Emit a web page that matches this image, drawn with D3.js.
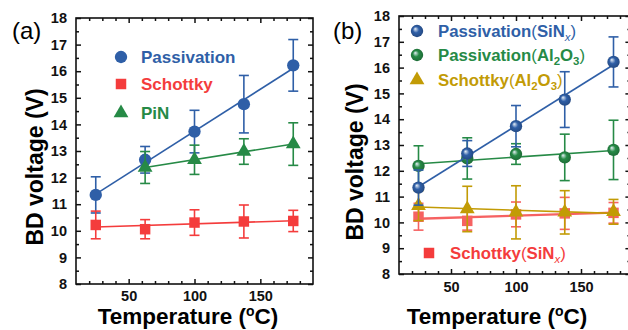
<!DOCTYPE html>
<html>
<head>
<meta charset="utf-8">
<script src="https://cdn.jsdelivr.net/npm/d3@7"></script>
<style>
  body { margin: 0; background: #fff; }
  svg { display: block; font-family: "Liberation Sans", Arial, sans-serif; }
  .tick text { font-size: 14.5px; font-weight: bold; fill: #111; }
  .tick line { stroke: #111; stroke-width: 1.5; }
</style>
</head>
<body>
<script>
// temperatures (°C)
const temps = [25, 62.5, 100, 137.5, 175];
const pinTemps = [62.5, 100, 137.5, 175];

// panel (a) + (b): SiNx samples
const passSiN = [11.35, 12.67, 13.73, 14.76, 16.22];
const passSiNErr = [0.68, 0.5, 0.8, 1.08, 0.97];
const schSiN = [10.22, 10.06, 10.31, 10.35, 10.37];
const schSiNErr = [0.52, 0.36, 0.48, 0.62, 0.4];
// panel (a): PiN
const pin = [12.38, 12.67, 12.98, 13.26];
const pinErr = [0.6, 0.55, 0.48, 0.8];
// panel (b): Al2O3 samples
const passAl = [12.19, 12.48, 12.65, 12.52, 12.81];
const passAlErr = [0.78, 0.8, 0.4, 0.9, 1.15];
const schAl = [10.65, 10.52, 10.39, 10.39, 10.41];
const schAlErr = [0.58, 0.88, 1.03, 0.84, 0.48];

const xMajor = [50, 100, 150];
const xMinor = d3.range(20, 190, 10).filter(v => v % 50 !== 0);
const yMajor = d3.range(8, 19, 1);
const yMinor = d3.range(8.5, 18, 1);

const BLUE = "#2f5fa7", RED = "#f43c3c", GREEN = "#268a46", GOLD = "#c29b05";

const width = 628, height = 330;
const svg = d3.select("body").append("svg")
  .attr("width", width).attr("height", height);

const defs = svg.append("defs");
function sphere(id, col) {
  const g = defs.append("radialGradient").attr("id", id)
    .attr("cx", "50%").attr("cy", "50%").attr("r", "55%")
    .attr("fx", "35%").attr("fy", "32%");
  g.append("stop").attr("offset", "0%").attr("stop-color", "#e8f0f8");
  g.append("stop").attr("offset", "45%").attr("stop-color", col);
  g.append("stop").attr("offset", "100%").attr("stop-color", d3.color(col).darker(0.8));
}
sphere("gBlue", BLUE);
sphere("gGreen", GREEN);

function linfit(xs, ys) {
  const mx = d3.mean(xs), my = d3.mean(ys);
  const b = d3.sum(xs, (x, i) => (x - mx) * (ys[i] - my)) / d3.sum(xs, x => (x - mx) ** 2);
  return x => my + b * (x - mx);
}

function panel(cfg) {
  const x = d3.scaleLinear().domain(cfg.xDomain).range(cfg.xRange);
  const y = d3.scaleLinear().domain([8, 18]).range(cfg.yRange);
  const g = svg.append("g");
  const [x0, x1] = cfg.xRange, [y1, y0] = cfg.yRange;

  // minor ticks
  const mk = (axis, tr) => {
    const a = g.append("g").attr("transform", tr).call(axis);
    a.select(".domain").remove();
    return a;
  };
  mk(d3.axisBottom(x).tickValues(xMinor).tickSize(-3).tickFormat(""), `translate(0,${y1})`);
  mk(d3.axisTop(x).tickValues(xMinor).tickSize(-3).tickFormat(""), `translate(0,${y0})`);
  mk(d3.axisLeft(y).tickValues(yMinor).tickSize(-3).tickFormat(""), `translate(${x0},0)`);
  mk(d3.axisRight(y).tickValues(yMinor).tickSize(-3).tickFormat(""), `translate(${x1},0)`);
  // major ticks
  mk(d3.axisBottom(x).tickValues(xMajor).tickSize(-5).tickPadding(cfg.xPad), `translate(0,${y1})`);
  mk(d3.axisTop(x).tickValues(xMajor).tickSize(-5).tickFormat(""), `translate(0,${y0})`);
  mk(d3.axisLeft(y).tickValues(yMajor).tickSize(-5).tickPadding(9).tickFormat(d3.format("d")), `translate(${x0},0)`);
  mk(d3.axisRight(y).tickValues(yMajor).tickSize(-5).tickFormat(""), `translate(${x1},0)`);

  g.append("rect").attr("x", x0).attr("y", y0)
    .attr("width", x1 - x0).attr("height", y1 - y0)
    .attr("fill", "none").attr("stroke", "#111").attr("stroke-width", 1.6);

  // titles
  const xt = g.append("text").attr("x", cfg.xTitle[0]).attr("y", cfg.xTitle[1])
    .attr("text-anchor", "middle").style("font-size", "22.5px").style("font-weight", "bold");
  xt.append("tspan").text("Temperature (");
  xt.append("tspan").attr("dy", -8).style("font-size", "14px").text("o");
  xt.append("tspan").attr("dy", 8).text("C)");

  g.append("text")
    .attr("transform", `translate(${cfg.yTitle[0]},${cfg.yTitle[1]}) rotate(-90)`)
    .attr("text-anchor", "middle").style("font-size", "23px").style("font-weight", "bold")
    .text("BD voltage (V)");

  g.append("text").attr("x", cfg.label[0]).attr("y", cfg.label[1])
    .style("font-size", "24px").text(cfg.labelText);

  return { g, x, y };
}

function series(p, xs, ys, errs, col, marker, opts = {}) {
  const { g, x, y } = p;
  const s = g.append("g").attr("opacity", opts.opacity || 1);
  const f = linfit(xs, ys);
  s.append("line")
    .attr("x1", x(xs[0])).attr("y1", y(f(xs[0])))
    .attr("x2", x(xs[xs.length - 1])).attr("y2", y(f(xs[xs.length - 1])))
    .attr("stroke", col).attr("stroke-width", opts.lw || 1.6);
  const pts = xs.map((t, i) => ({ t, v: ys[i], e: errs[i] }));
  const eb = s.selectAll(".eb").data(pts).enter().append("g")
    .attr("stroke", col).attr("stroke-width", 1.6);
  eb.append("line").attr("x1", d => x(d.t)).attr("x2", d => x(d.t))
    .attr("y1", d => y(d.v - d.e)).attr("y2", d => y(d.v + d.e));
  eb.append("line").attr("x1", d => x(d.t) - 5).attr("x2", d => x(d.t) + 5)
    .attr("y1", d => y(d.v + d.e)).attr("y2", d => y(d.v + d.e));
  eb.append("line").attr("x1", d => x(d.t) - 5).attr("x2", d => x(d.t) + 5)
    .attr("y1", d => y(d.v - d.e)).attr("y2", d => y(d.v - d.e));
  s.selectAll(".mk").data(pts).enter().append("path")
    .attr("transform", d => `translate(${x(d.t)},${y(d.v)})`)
    .attr("d", markerPath(marker))
    .attr("fill", opts.fill || col);
}

function markerPath(m) {
  if (m === "circle") return d3.symbol(d3.symbolCircle, 120)();
  if (m === "square") return d3.symbol(d3.symbolSquare, 110)();
  return d3.symbol(d3.symbolTriangle, 95)();
}

function legendItem(g, mx, my, tx, marker, col, fill, parts, size) {
  g.append("path").attr("transform", `translate(${mx},${my})`)
    .attr("d", markerPath(marker)).attr("fill", fill || col);
  const t = g.append("text").attr("x", tx).attr("y", my + size * 0.36)
    .style("font-size", size + "px").style("font-weight", "bold").attr("fill", col);
  parts.forEach(pt => {
    const ts = t.append("tspan").text(pt.t);
    if (pt.sub) ts.attr("dy", 4).style("font-size", (size * 0.68) + "px");
    if (pt.up) ts.attr("dy", -4);
    if (pt.it) ts.style("font-style", "italic").style("font-weight", "normal");
    if (pt.norm) ts.style("font-weight", "normal");
  });
}

// ---- panel (a)
const pa = panel({
  xDomain: [10, 190], xRange: [76, 313], yRange: [284, 18], xPad: 7,
  xTitle: [188, 324], yTitle: [43, 167], label: [12, 39], labelText: "(a)"
});
series(pa, temps, passSiN, passSiNErr, BLUE, "circle");
series(pa, pinTemps, pin, pinErr, GREEN, "triangle");
series(pa, temps, schSiN, schSiNErr, RED, "square");
legendItem(pa.g, 121, 57, 141, "circle", BLUE, null, [{ t: "Passivation" }], 17);
legendItem(pa.g, 121, 84, 141, "square", RED, null, [{ t: "Schottky" }], 17);
legendItem(pa.g, 121, 113, 141, "triangle", GREEN, null, [{ t: "PiN" }], 17);

// ---- panel (b)
const pb = panel({
  xDomain: [10, 188], xRange: [399, 630.4], yRange: [274, 16], xPad: 8,
  xTitle: [497, 324], yTitle: [363, 162], label: [333, 39], labelText: "(b)"
});
series(pb, temps, schSiN, schSiNErr, RED, "square", { opacity: 0.8, lw: 2.4 });
series(pb, temps, schAl, schAlErr, GOLD, "triangle");
series(pb, temps, passAl, passAlErr, GREEN, "circle", { fill: "url(#gGreen)" });
series(pb, temps, passSiN, passSiNErr, BLUE, "circle", { fill: "url(#gBlue)" });
legendItem(pb.g, 417, 31, 438, "circle", BLUE, "url(#gBlue)",
  [{ t: "Passivation" }, { t: "(", norm: true }, { t: "SiN" }, { t: "x", sub: true, it: true }, { t: ")", up: true, norm: true }], 16.8);
legendItem(pb.g, 417, 55, 438, "circle", GREEN, "url(#gGreen)",
  [{ t: "Passivation" }, { t: "(", norm: true }, { t: "Al" }, { t: "2", sub: true }, { t: "O", up: true }, { t: "3", sub: true }, { t: ")", up: true, norm: true }], 16.8);
legendItem(pb.g, 417, 80, 438, "triangle", GOLD, null,
  [{ t: "Schottky" }, { t: "(", norm: true }, { t: "Al" }, { t: "2", sub: true }, { t: "O", up: true }, { t: "3", sub: true }, { t: ")", up: true, norm: true }], 16.8);
legendItem(pb.g, 429, 253, 450, "square", RED, null,
  [{ t: "Schottky" }, { t: "(", norm: true }, { t: "SiN" }, { t: "x", sub: true, it: true }, { t: ")", up: true, norm: true }], 16.8);
</script>
</body>
</html>
